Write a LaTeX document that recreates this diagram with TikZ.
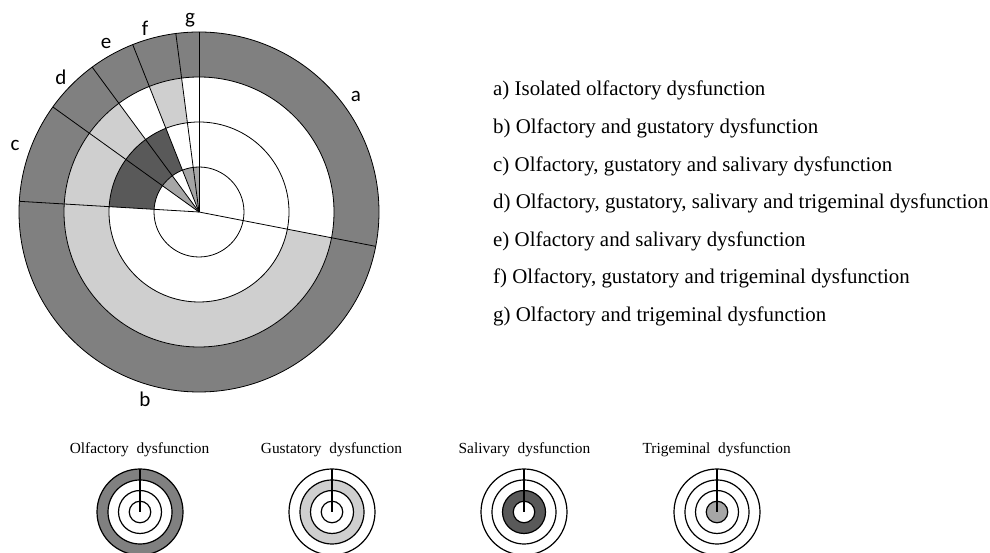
\documentclass[tikz,border=0pt]{standalone}
\usepackage{fontspec}
\setmainfont{Liberation Serif}
\newfontfamily\lblfont{Carlito}
\tikzset{
	olf/.style={black!50},
	gus/.style={black!19},
	sal/.style={black!65},
	tri/.style={black!35},
	seglabel/.style={font=\lblfont\fontsize{21}{24}\selectfont, inner sep=0pt},
	item/.style={font=\fontsize{20.9}{24}\selectfont, anchor=base west, inner sep=0pt},
	ttl/.style={font=\fontsize{15.4}{18}\selectfont, anchor=base, inner sep=0pt},
}
\begin{document}
\begin{tikzpicture}[x=1pt, y=1pt]
	\useasboundingbox (0,0) rectangle (990,553);

	% main chart
	\begin{scope}[shift={(199,341)}, line width=0.8pt]
		\fill [olf, even odd rule] (0,0) circle[radius=180] circle[radius=135];

		\fill [gus] (126.4:90) arc[start angle=126.4, end angle=349, radius=90]
			-- (349:135) arc[start angle=349, end angle=126.4, radius=135] -- cycle;
		\fill [gus] (97.4:90) arc[start angle=97.4, end angle=111.6, radius=90]
			-- (111.6:135) arc[start angle=111.6, end angle=97.4, radius=135] -- cycle;
		\fill [sal] (111.6:45) arc[start angle=111.6, end angle=176.6, radius=45]
			-- (176.6:90) arc[start angle=176.6, end angle=111.6, radius=90] -- cycle;
		\fill [tri] (0,0) -- (126.4:45) arc[start angle=126.4, end angle=144.3, radius=45] -- cycle;
		\fill [tri] (0,0) -- (90:45) arc[start angle=90, end angle=111.6, radius=45] -- cycle;

		\draw (0,0) circle[radius=180];
		\draw (0,0) circle[radius=135];
		\draw (0,0) circle[radius=90];
		\draw (0,0) circle[radius=45];

		\foreach \a in {90, 97.4, 111.6, 126.4, 144.3, 176.6, -11}
			\draw (0,0) -- (\a:180);
	\end{scope}

	\node [seglabel] (sa) at (356,457) {a};
	\node [seglabel] (sb) at (145,154) {b};
	\node [seglabel] (sc) at (15,408) {c};
	\node [seglabel] (sd) at (61,476) {d};
	\node [seglabel] (se) at (106,510) {e};
	\node [seglabel] (sf) at (145,525) {f};
	\node [seglabel] (sg) at (190,533) {g};

	% legend
	\node [item] (la) at (493,457) {a) Isolated olfactory dysfunction};
	\node [item] (lb) at (493,419.4) {b) Olfactory and gustatory dysfunction};
	\node [item] (lc) at (493,381.8) {c) Olfactory, gustatory and salivary dysfunction};
	\node [item] (ld) at (493,344.2) {d) Olfactory, gustatory, salivary and trigeminal dysfunction};
	\node [item] (le) at (493,306.6) {e) Olfactory and salivary dysfunction};
	\node [item] (lf) at (493,269) {f) Olfactory, gustatory and trigeminal dysfunction};
	\node [item] (lg) at (493,231.4) {g) Olfactory and trigeminal dysfunction};

	% small keys
	\node [ttl] (tolf) at (139.5,99.7) {Olfactory\ \ dysfunction};
	\node [ttl] (tgus) at (331.5,99.7) {Gustatory\ \ dysfunction};
	\node [ttl] (tsal) at (524.5,99.7) {Salivary\ \ dysfunction};
	\node [ttl] (ttri) at (716.7,99.7) {Trigeminal\ \ dysfunction};

	\fill [olf, even odd rule] (140,41) circle[radius=43] circle[radius=32];
	\fill [gus, even odd rule] (332,41) circle[radius=32] circle[radius=21.5];
	\fill [sal, even odd rule] (524,41) circle[radius=21.5] circle[radius=10.75];
	\fill [tri] (717,41) circle[radius=10.75];

	\foreach \x in {140, 332, 524, 717} {
		\foreach \r in {43, 32, 21.5, 10.75}
			\draw [line width=1.2pt] (\x,41) circle[radius=\r];
		\draw [line width=1.2pt] (\x,41) -- ++(0,43);
	}
\end{tikzpicture}
\end{document}
